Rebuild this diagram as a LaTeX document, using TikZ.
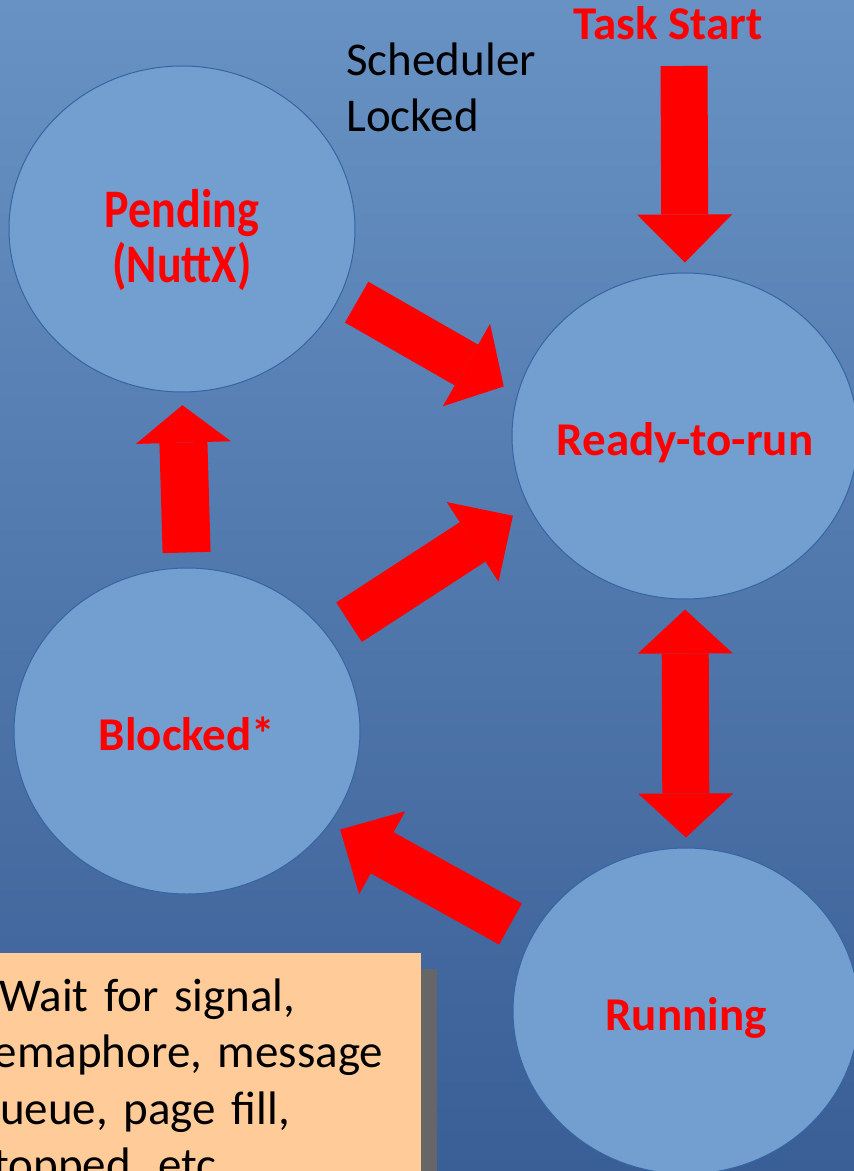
\documentclass[tikz,border=0pt]{standalone}
\usepackage{fontspec}
\setmainfont{Carlito}
\usetikzlibrary{arrows.meta,shapes.geometric,shadows}
\definecolor{slidetop}{RGB}{104,146,196}
\definecolor{slidebot}{RGB}{58,94,150}
\definecolor{statefill}{RGB}{114,159,207}
\definecolor{stateline}{RGB}{52,101,164}
\definecolor{notefill}{RGB}{255,204,153}
\definecolor{noteshadow}{RGB}{102,102,102}
\newcommand{\slidefont}{\fontsize{23.5pt}{28.3pt}\selectfont}

\begin{document}
\begin{tikzpicture}[x=.5pt,y=-.5pt,
  state/.style={ellipse,draw=stateline,line width=.5pt,fill=statefill,minimum width=173pt,minimum height=163pt,inner sep=0pt},
  statetext/.style={font=\slidefont\bfseries,text=red,inner sep=0pt,text height=17pt,text depth=5pt},
  flow/.style={draw=red,line width=23.5pt,-{Triangle[length=#1,width=47.5pt,line width=0pt]}},
  flow/.default=24pt,
  notebox/.style={anchor=north west,fill=notefill,font=\slidefont,align=left,text width=213.5pt,inner xsep=9.5pt,inner ysep=12.5pt,
    drop shadow={shadow xshift=8pt,shadow yshift=-8pt,fill=noteshadow,opacity=1}}]
\useasboundingbox (0,0) rectangle (854,1171);
\clip (0,0) rectangle (854,1171);
\shade[top color=slidetop,bottom color=slidebot] (0,0) rectangle (854,1171);

\node[state,label={[text=red,inner sep=0pt,yshift=-7.1pt]center:{\scalebox{1}[1.18]{\fontsize{23pt}{21pt}\selectfont\bfseries\begin{tabular}{@{}c@{}}Pending\\(NuttX)\end{tabular}}}}] (pend) at (182,229) {};
\node[state,label={[statetext,yshift=-3.65pt]center:Ready-to-run}] (ready) at (685,436) {};
\node[state,label={[statetext,yshift=-3.65pt]center:Blocked*}] (block) at (187,731) {};
\node[state,label={[statetext,yshift=-3.65pt]center:Running}] (run) at (686,1011) {};

\node[statetext,anchor=base] (start) at (668,40) {Task Start};
\node[font=\slidefont,anchor=base west,align=left,inner sep=0pt] (lock) at (346,132) {Scheduler\\Locked};
\coordinate (entry) at (684,66);

\draw[flow,shorten >=5pt] (entry) -- (ready.north);
\draw[flow=21.5pt,shorten <=8.75pt,shorten >=7.8pt] (pend.-22.4) -- (ready.166.2);
\draw[flow,shorten <=12.5pt,shorten >=9.1pt] (block.34.8) -- (ready.204.7);
\draw[flow,shorten <=12.25pt,shorten >=5.9pt] (run.154.3) -- (block.-33.1);
\draw[flow=18.7pt,line width=24pt,shorten <=7.5pt,shorten >=6.35pt] (block.north) -- (pend.south);
\draw[flow=22pt,{Triangle[length=22pt,width=47.5pt,line width=0pt]}-{Triangle[length=22pt,width=47.5pt,line width=0pt]},shorten <=5pt,shorten >=5pt] (ready.south) -- (run.north);

\node[notebox] (note) at (-44,953) {\hspace*{12pt}Wait for signal,\\semaphore, message\\queue, page fill,\\stopped, etc.};
\end{tikzpicture}
\end{document}
